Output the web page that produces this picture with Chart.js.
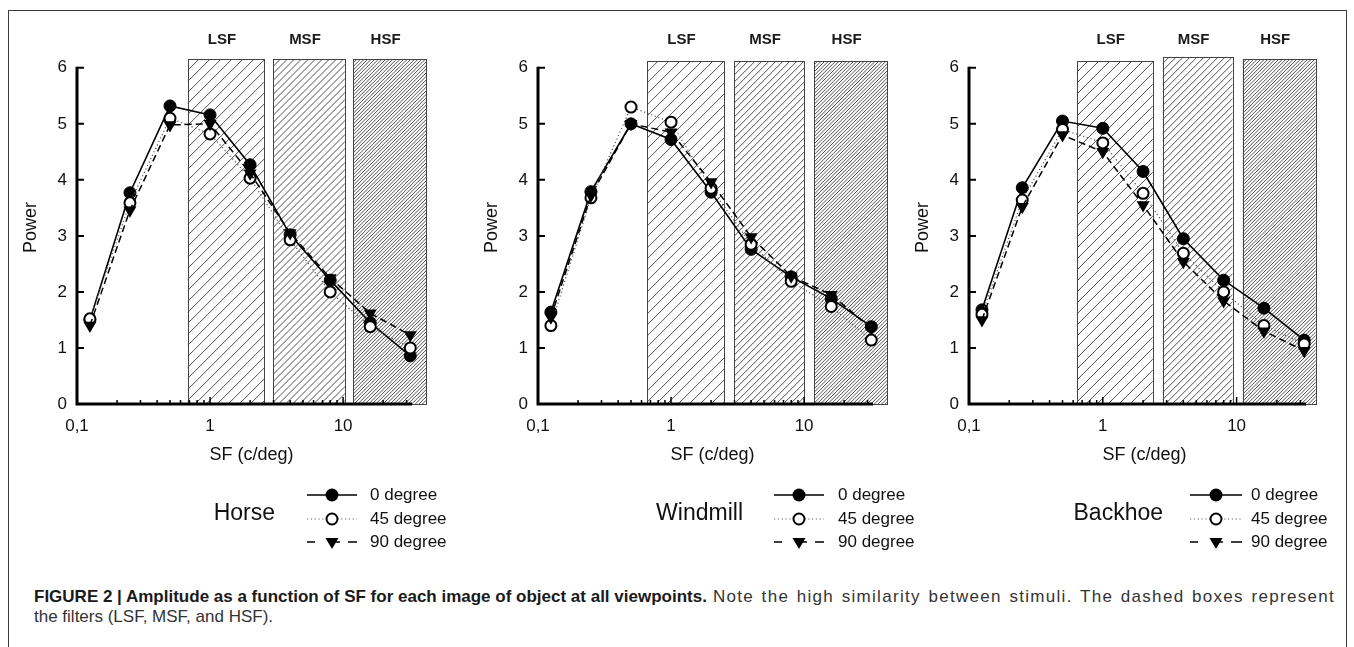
<!DOCTYPE html>
<html>
<head>
<meta charset="utf-8">
<script src="https://cdn.jsdelivr.net/npm/chart.js@4.4.0/dist/chart.umd.min.js"></script>
<style>
body { margin: 0; background: #fff; font-family: Arial, "Liberation Sans", sans-serif; }
#page { position: relative; width: 1354px; height: 647px; overflow: hidden; background: #fff; }
#frame { position: absolute; left: 8px; top: 10px; width: 1339px; height: 660px; border: 1px solid #3a3a3a; box-sizing: border-box; }
.panel { position: absolute; top: 0; width: 470px; height: 560px; }
#caption { position: absolute; left: 34px; top: 587px; width: 1301px; font-size: 17px; line-height: 20px; color: #333; }
#caption .first { display: flex; white-space: nowrap; }
#caption .first b { flex: none; color: #1a1a1a; }
#caption .first .rest { flex: 1; margin-left: 6px; letter-spacing: 1.3px; text-align: justify; text-align-last: justify; }
</style>
</head>
<body>
<div id="page">
	<div id="frame"></div>
	<div class="panel" style="left:0px"><canvas id="horseChart"></canvas></div>
	<div class="panel" style="left:461px"><canvas id="windmillChart"></canvas></div>
	<div class="panel" style="left:892px"><canvas id="backhoeChart"></canvas></div>
	<div id="caption">
		<div class="first"><b>FIGURE 2 | Amplitude as a function of SF for each image of object at all viewpoints.</b><span class="rest">Note the high similarity between stimuli. The dashed boxes represent</span></div>
		<div>the filters (LSF, MSF, and HSF).</div>
	</div>
</div>
<script>
// spatial frequencies (c/deg)
var sfValues = [0.125, 0.25, 0.5, 1, 2, 4, 8, 16, 32];
var seriesNames = ['0 degree', '45 degree', '90 degree'];

// power, horse
var horse0 = [1.5, 3.77, 5.32, 5.16, 4.27, 3.02, 2.21, 1.45, 0.86];
var horse45 = [1.52, 3.59, 5.1, 4.82, 4.03, 2.93, 2.0, 1.38, 1.0];
var horse90 = [1.4, 3.46, 4.98, 5.0, 4.12, 3.05, 2.25, 1.62, 1.23];

// power, windmill
var windmill0 = [1.64, 3.79, 5.0, 4.72, 3.78, 2.76, 2.27, 1.88, 1.38];
var windmill45 = [1.4, 3.68, 5.3, 5.03, 3.85, 2.85, 2.19, 1.74, 1.14];
var windmill90 = [1.55, 3.72, 5.0, 4.85, 3.96, 2.98, 2.28, 1.95, 1.35];

// power, backhoe
var backhoe0 = [1.68, 3.86, 5.05, 4.92, 4.15, 2.95, 2.21, 1.71, 1.14];
var backhoe45 = [1.6, 3.64, 4.9, 4.66, 3.76, 2.69, 2.0, 1.4, 1.07];
var backhoe90 = [1.5, 3.52, 4.8, 4.5, 3.55, 2.54, 1.84, 1.3, 0.95];

// filter bands (c/deg) and their top (power)
var filterNames = ['LSF', 'MSF', 'HSF'];
var horseFilters = [[0.68, 2.55], [2.98, 10.3], [11.9, 42]];
var windmillFilters = [[0.66, 2.5], [2.98, 10.0], [11.9, 42]];
var backhoeFilters = [[0.64, 2.36], [2.8, 9.3], [11.1, 39]];
var horseFilterTops = [6.15, 6.15, 6.15];
var windmillFilterTops = [6.12, 6.12, 6.12];
var backhoeFilterTops = [6.12, 6.2, 6.15];

// axis ticks
var yTickValues = [0, 1, 2, 3, 4, 5, 6];
var xTickValues = [0.1, 1, 10];
var xTickLabels = ['0,1', '1', '10'];

Chart.defaults.font.family = 'Arial, "Liberation Sans", sans-serif';
Chart.defaults.color = '#111';

// hatched filter boxes
var filterPlugin = {
	id : 'filterBoxes',
	beforeDatasetsDraw : function(chart) {
		var o = chart.options.plugins.filterBoxes;
		var ctx = chart.ctx;
		var xs = chart.scales.x, ys = chart.scales.y;
		var spacing = [11, 7, 3.6];
		ctx.save();
		for (var i = 0; i < o.bands.length; i++) {
			var l = xs.getPixelForValue(o.bands[i][0]);
			var r = xs.getPixelForValue(o.bands[i][1]);
			var t = ys.getPixelForValue(o.tops[i]);
			var b = ys.getPixelForValue(0);
			ctx.save();
			ctx.beginPath();
			ctx.rect(l, t, r - l, b - t);
			ctx.clip();
			ctx.strokeStyle = '#3c3c3c';
			ctx.lineWidth = 0.9;
			ctx.beginPath();
			for (var x = l - (b - t); x < r; x += spacing[i]) {
				ctx.moveTo(x, b);
				ctx.lineTo(x + (b - t), t);
			}
			ctx.stroke();
			ctx.restore();
			ctx.strokeStyle = '#444';
			ctx.lineWidth = 1;
			ctx.strokeRect(Math.round(l) + 0.5, Math.round(t) + 0.5, Math.round(r - l), Math.round(b - t));
			ctx.fillStyle = '#1a1a1a';
			ctx.font = 'bold 15px Arial, "Liberation Sans", sans-serif';
			ctx.textAlign = 'center';
			ctx.textBaseline = 'middle';
			ctx.fillText(filterNames[i], (l + r) / 2 - 4, 40);
		}
		ctx.restore();
	}
};

// axis lines and inward ticks
var axisPlugin = {
	id : 'axisLines',
	afterDatasetsDraw : function(chart) {
		var o = chart.options.plugins.axisLines;
		var ctx = chart.ctx;
		var xs = chart.scales.x, ys = chart.scales.y;
		var x0 = xs.getPixelForValue(0.1);
		var x1 = xs.getPixelForValue(o.xEnd);
		var y0 = ys.getPixelForValue(0);
		var y6 = ys.getPixelForValue(6);
		ctx.save();
		ctx.strokeStyle = '#000';
		ctx.lineWidth = 3;
		ctx.beginPath();
		ctx.moveTo(x0 - 1.5, y0);
		ctx.lineTo(x1, y0);
		ctx.moveTo(x0, y0);
		ctx.lineTo(x0, y6 - 1);
		ctx.stroke();
		ctx.lineWidth = 2;
		ctx.beginPath();
		ys.ticks.forEach(function(t) {
			if (t.value === 0) return;
			var py = ys.getPixelForValue(t.value);
			ctx.moveTo(x0, py);
			ctx.lineTo(x0 + 7, py);
		});
		ctx.stroke();
		ctx.lineWidth = 1.5;
		ctx.beginPath();
		xs.ticks.forEach(function(t) {
			if (t.value <= 0.1 || t.value > o.xEnd) return;
			var px = xs.getPixelForValue(t.value);
			var len = xTickValues.indexOf(t.value) >= 0 ? 7 : 4;
			ctx.moveTo(px, y0);
			ctx.lineTo(px, y0 - len);
		});
		ctx.stroke();
		ctx.restore();
	}
};

// object name and series legend below each chart
var legendPlugin = {
	id : 'sfLegend',
	afterDraw : function(chart) {
		var o = chart.options.plugins.sfLegend;
		var ctx = chart.ctx;
		var rows = [495, 519, 542];
		ctx.save();
		ctx.fillStyle = '#111';
		ctx.font = '23px Arial, "Liberation Sans", sans-serif';
		ctx.textAlign = 'right';
		ctx.textBaseline = 'middle';
		ctx.fillText(o.name, o.nameRight, 514);
		ctx.font = '17px Arial, "Liberation Sans", sans-serif';
		ctx.textAlign = 'left';
		for (var i = 0; i < 3; i++) {
			var y = rows[i];
			var mid = (o.lineStart + o.lineEnd) / 2;
			ctx.strokeStyle = '#000';
			ctx.lineWidth = 1.6;
			if (i === 0) ctx.setLineDash([]);
			if (i === 1) { ctx.setLineDash([1.2, 2.6]); ctx.strokeStyle = '#666'; ctx.lineWidth = 1.2; }
			if (i === 2) ctx.setLineDash([8, 17, 8]);
			ctx.beginPath();
			ctx.moveTo(o.lineStart, y);
			ctx.lineTo(o.lineEnd, y);
			ctx.stroke();
			ctx.setLineDash([]);
			ctx.fillStyle = '#000';
			ctx.strokeStyle = '#000';
			ctx.beginPath();
			if (i === 0) {
				ctx.arc(mid, y, 6.5, 0, Math.PI * 2);
				ctx.fill();
			} else if (i === 1) {
				ctx.fillStyle = '#fff';
				ctx.lineWidth = 2;
				ctx.arc(mid, y, 5.5, 0, Math.PI * 2);
				ctx.fill();
				ctx.stroke();
			} else {
				ctx.moveTo(mid - 6.5, y - 4);
				ctx.lineTo(mid + 6.5, y - 4);
				ctx.lineTo(mid, y + 7);
				ctx.closePath();
				ctx.fill();
			}
			ctx.fillStyle = '#111';
			ctx.fillText(seriesNames[i], o.textX, y);
		}
		ctx.restore();
	}
};

function toPoints(values) {
	return values.map(function(v, i) {
		return { x : sfValues[i], y : v };
	});
}

function createPanel(canvasId, v0, v45, v90, bands, tops, legend, padRight) {
	var ctx = document.getElementById(canvasId);
	var data = {
		datasets : [ {
			label : seriesNames[0],
			data : toPoints(v0),
			borderColor : '#000',
			backgroundColor : '#000',
			borderWidth : 1.6,
			pointStyle : 'circle',
			pointRadius : 6,
			pointBorderWidth : 1,
			order : 3
		}, {
			label : seriesNames[1],
			data : toPoints(v45),
			borderColor : '#555',
			borderWidth : 1.2,
			borderDash : [1.2, 2.6],
			pointStyle : 'circle',
			pointRadius : 5.5,
			pointBorderWidth : 2,
			pointBorderColor : '#000',
			pointBackgroundColor : '#fff',
			order : 2
		}, {
			label : seriesNames[2],
			data : toPoints(v90),
			borderColor : '#000',
			backgroundColor : '#000',
			borderWidth : 1.5,
			borderDash : [7, 4],
			pointStyle : 'triangle',
			pointRotation : 180,
			pointRadius : 7.5,
			pointBorderWidth : 0,
			order : 1
		} ]
	};

	return new Chart(ctx, {
		type : 'line',
		data : data,
		plugins : [ filterPlugin, axisPlugin, legendPlugin ],
		options : {
			responsive : true,
			maintainAspectRatio : false,
			animation : false,
			layout : {
				padding : { top : 51, right : padRight, left : 0, bottom : 0 }
			},
			plugins : {
				legend : { display : false },
				tooltip : { enabled : false },
				filterBoxes : { bands : bands, tops : tops },
				axisLines : { xEnd : 33 },
				sfLegend : legend
			},
			scales : {
				x : {
					type : 'logarithmic',
					min : 0.1,
					max : 42,
					border : { display : false },
					grid : { display : false, drawTicks : false },
					afterFit : function(scale) { scale.height = 156; },
					afterBuildTicks : function(scale) {
						var ticks = [];
						[0.1, 1, 10].forEach(function(d) {
							for (var k = 1; k <= 9; k++) {
								if (k * d <= 33) ticks.push({ value : k * d });
							}
						});
						scale.ticks = ticks;
					},
					ticks : {
						autoSkip : false,
						maxRotation : 0,
						padding : 12,
						font : { size : 17 },
						callback : function(value) {
							for (var i = 0; i < xTickValues.length; i++) {
								if (Math.abs(value - xTickValues[i]) < 1e-9) return xTickLabels[i];
							}
							return '';
						}
					},
					title : {
						display : true,
						text : 'SF (c/deg)',
						font : { size : 18 },
						padding : { top : 0, bottom : 94 }
					}
				},
				y : {
					min : 0,
					max : 6.3,
					border : { display : false },
					grid : { display : false, drawTicks : false },
					afterFit : function(scale) { scale.width = 77; },
					afterBuildTicks : function(scale) {
						scale.ticks = yTickValues.map(function(v) { return { value : v }; });
					},
					ticks : {
						padding : 10,
						font : { size : 17 }
					},
					title : {
						display : true,
						text : 'Power',
						font : { size : 18 },
						padding : { top : 20, bottom : 0 }
					}
				}
			}
		}
	});
}

createPanel('horseChart', horse0, horse45, horse90, horseFilters, horseFilterTops,
	{ name : 'Horse', nameRight : 275, lineStart : 307, lineEnd : 357, textX : 370 }, 44);
createPanel('windmillChart', windmill0, windmill45, windmill90, windmillFilters, windmillFilterTops,
	{ name : 'Windmill', nameRight : 282, lineStart : 313, lineEnd : 363, textX : 377 }, 44);
createPanel('backhoeChart', backhoe0, backhoe45, backhoe90, backhoeFilters, backhoeFilterTops,
	{ name : 'Backhoe', nameRight : 271, lineStart : 298, lineEnd : 350, textX : 359 }, 42);
</script>
</body>
</html>
